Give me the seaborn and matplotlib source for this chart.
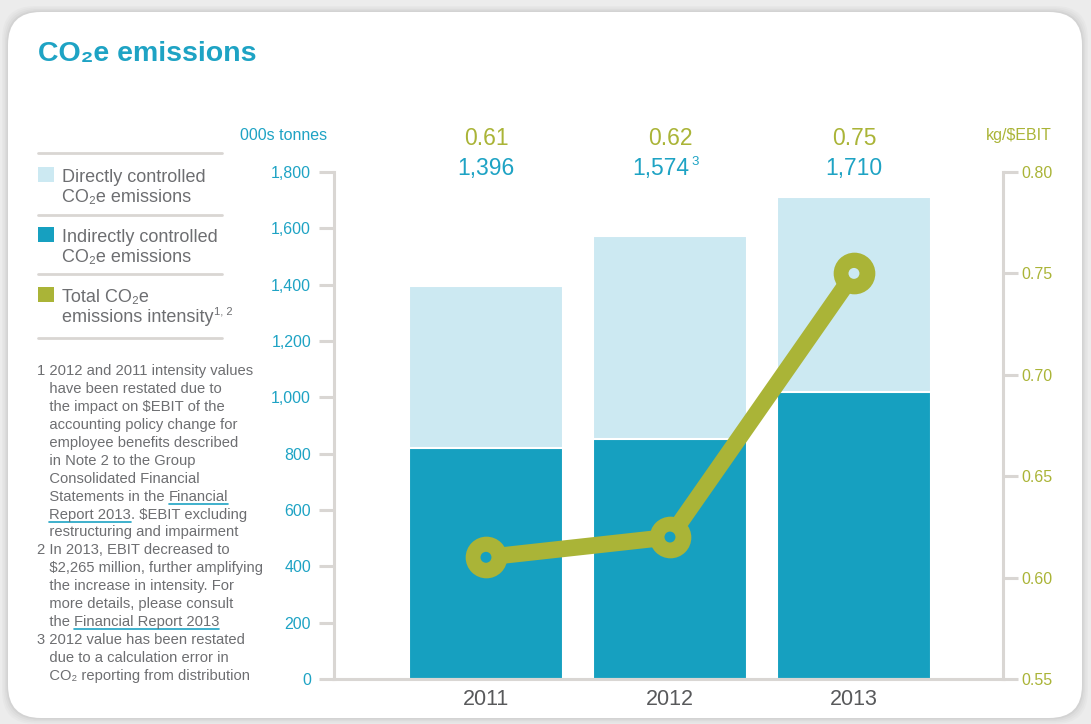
import numpy as np
import pandas as pd
import matplotlib
matplotlib.use("Agg")
import matplotlib.pyplot as plt
from matplotlib.patches import FancyBboxPatch, Rectangle
from matplotlib.lines import Line2D
import seaborn as sns

years = ["2011", "2012", "2013"]
total_emissions = [1396, 1574, 1710]      # directly + indirectly controlled, 000s tonnes
indirect_emissions = [820, 852, 1019]
intensity = [0.61, 0.62, 0.75]            # kg/$EBIT
total_labels = ["1,396", "1,574", "1,710"]
total_sup = ["", "3", ""]
intensity_labels = ["0.61", "0.62", "0.75"]
left_ticks = [0, 200, 400, 600, 800, 1000, 1200, 1400, 1600, 1800]
right_ticks = [0.55, 0.60, 0.65, 0.70, 0.75, 0.80]

legend_items = [
    ("#cce9f2", ["Directly controlled", "CO₂e emissions"], ""),
    ("#16a0c0", ["Indirectly controlled", "CO₂e emissions"], ""),
    ("#aab437", ["Total CO₂e", "emissions intensity"], "1, 2"),
]
footnotes = [
    "1 2012 and 2011 intensity values",
    "   have been restated due to",
    "   the impact on $EBIT of the",
    "   accounting policy change for",
    "   employee benefits described",
    "   in Note 2 to the Group",
    "   Consolidated Financial",
    "   Statements in the |Financial|",
    "   |Report 2013|. $EBIT excluding",
    "   restructuring and impairment",
    "2 In 2013, EBIT decreased to",
    "   $2,265 million, further amplifying",
    "   the increase in intensity. For",
    "   more details, please consult",
    "   the |Financial Report 2013|",
    "3 2012 value has been restated",
    "   due to a calculation error in",
    "   CO₂ reporting from distribution",
]

TEAL = "#16a0c0"
TEAL_TXT = "#1ea3c4"
LIGHT = "#cce9f2"
OLIVE = "#aab437"
GREY_TXT = "#6d6e71"
AXIS_GREY = "#d9d6d3"

sns.set_style("white")
plt.rcParams["font.family"] = ["Liberation Sans", "DejaVu Sans"]

W, H = 1091, 724
fig = plt.figure(figsize=(W / 100, H / 100), dpi=100, facecolor="#ececec")


def px(x, y):
    return x / W, 1 - y / H


# panel with soft shadow
for i, a in enumerate([0.05, 0.06, 0.08, 0.12]):
    g = 6 - i * 1.5
    fig.patches.append(FancyBboxPatch(px(8 - g, 718 + g), (1074 + 2 * g) / W, (706 + 2 * g) / H,
                                      boxstyle="round,pad=0,rounding_size=0.03",
                                      transform=fig.transFigure, fc="#9a9a9a", ec="none",
                                      alpha=a, mutation_aspect=W / H, zorder=-2))
fig.patches.append(FancyBboxPatch(px(8, 718), 1074 / W, 706 / H,
                                  boxstyle="round,pad=0,rounding_size=0.03",
                                  transform=fig.transFigure, fc="white", ec="none",
                                  mutation_aspect=W / H, zorder=-1))

fig.text(*px(38, 61), "CO₂e emissions", color=TEAL_TXT, fontsize=20.5, fontweight="bold", va="baseline")

# main axes
ax = fig.add_axes([334 / W, 1 - 679 / H, (1003 - 334) / W, (679 - 172) / H])
ax.patch.set_alpha(0)
df = pd.DataFrame({"year": years, "total": total_emissions, "indirect": indirect_emissions})
sns.barplot(data=df, x="year", y="total", color=LIGHT, saturation=1, width=0.837,
            edgecolor="white", linewidth=1.5, ax=ax)
sns.barplot(data=df, x="year", y="indirect", color=TEAL, saturation=1, width=0.837,
            edgecolor="white", linewidth=1.5, ax=ax)
ax.set_xlim(-0.826, 2.81)
ax.set_ylim(0, 1800)
ax.set_yticks(left_ticks)
ax.set_yticklabels([f"{v:,}" for v in left_ticks])
ax.set_xlabel("")
ax.set_ylabel("")
ax.tick_params(axis="y", colors=AXIS_GREY, labelcolor=TEAL_TXT, labelsize=11.5,
               length=10.5, width=2.2, pad=6, direction="out", left=True)
ax.tick_params(axis="x", length=0, pad=7, labelsize=15.5, labelcolor="#58595b")
for s in ["top", "right"]:
    ax.spines[s].set_visible(False)
for s in ["left", "bottom"]:
    ax.spines[s].set_color(AXIS_GREY)
    ax.spines[s].set_linewidth(2.2)

ax2 = ax.twinx()
x_pos = np.arange(len(years))
sns.lineplot(x=x_pos, y=intensity, ax=ax2, color=OLIVE, linewidth=12, marker="o",
             markersize=30, markeredgewidth=0, markerfacecolor=OLIVE, zorder=3)
# holes show the bar segment underneath
left_equiv = [(v - 0.55) / 0.25 * 1800 for v in intensity]
hole_cols = [TEAL if le < ind else LIGHT for le, ind in zip(left_equiv, indirect_emissions)]
ax2.scatter(x_pos, intensity, s=62, c=hole_cols, zorder=4, linewidths=0)
ax2.set_xlim(-0.826, 2.81)
ax2.set_ylim(0.55, 0.80)
ax2.set_yticks(right_ticks)
ax2.set_yticklabels([f"{v:.2f}" for v in right_ticks])
ax2.tick_params(axis="y", colors=AXIS_GREY, labelcolor=OLIVE, labelsize=11.5,
                length=10.5, width=2.2, pad=3, direction="out", right=True)
for s in ["top", "left", "bottom"]:
    ax2.spines[s].set_visible(False)
ax2.spines["right"].set_color(AXIS_GREY)
ax2.spines["right"].set_linewidth(2.2)

fig.text(*px(240, 140), "000s tonnes", color=TEAL_TXT, fontsize=11.5, va="baseline")
fig.text(*px(986, 140), "kg/$EBIT", color=OLIVE, fontsize=11.5, va="baseline")

# value labels above the chart
centers_px = [486, 670, 854]
for cx, il, tl, sup in zip(centers_px, intensity_labels, total_labels, total_sup):
    fig.text(*px(cx, 145), il, color=OLIVE, fontsize=16.5, ha="center", va="baseline")
    if sup:
        fig.text(*px(cx + 19, 175), tl, color=TEAL_TXT, fontsize=16.5, ha="right", va="baseline")
        fig.text(*px(cx + 21, 165), sup, color=TEAL_TXT, fontsize=9.5, ha="left", va="baseline")
    else:
        fig.text(*px(cx, 175), tl, color=TEAL_TXT, fontsize=16.5, ha="center", va="baseline")

# legend block
for yy in [153, 215, 274, 338]:
    fig.add_artist(Line2D([38 / W, 222 / W], [1 - yy / H] * 2, color=AXIS_GREY, lw=2,
                          transform=fig.transFigure))
fig.canvas.draw()
rend = fig.canvas.get_renderer()
for k, (col, lines, sup) in enumerate(legend_items):
    base = 182 + k * 60
    fig.add_artist(Rectangle(px(38, base), 16 / W, 15 / H, transform=fig.transFigure,
                             fc=col, ec="none"))
    fig.text(*px(62, base), lines[0], color=GREY_TXT, fontsize=13, va="baseline")
    t = fig.text(*px(62, base + 20), lines[1], color=GREY_TXT, fontsize=13, va="baseline")
    if sup:
        bb = t.get_window_extent(rend)
        fig.text((bb.x1 + 1) / W, 1 - (base + 13) / H, sup, color=GREY_TXT, fontsize=8, va="baseline")

# footnotes, |...| marks underlined links
y0, dy = 375, 17.94
for i, line in enumerate(footnotes):
    yb = y0 + i * dy
    x = 37
    parts = line.split("|")
    for j, part in enumerate(parts):
        if not part:
            continue
        t = fig.text(*px(x, yb), part, color=GREY_TXT, fontsize=10.6, va="baseline")
        bb = t.get_window_extent(rend)
        if j % 2 == 1:
            fig.add_artist(Line2D([bb.x0 / W, bb.x1 / W], [1 - (yb + 3) / H] * 2, color=TEAL_TXT,
                                  lw=1.2, transform=fig.transFigure))
        x = bb.x1

fig.savefig("out.png", dpi=100, facecolor=fig.get_facecolor())
